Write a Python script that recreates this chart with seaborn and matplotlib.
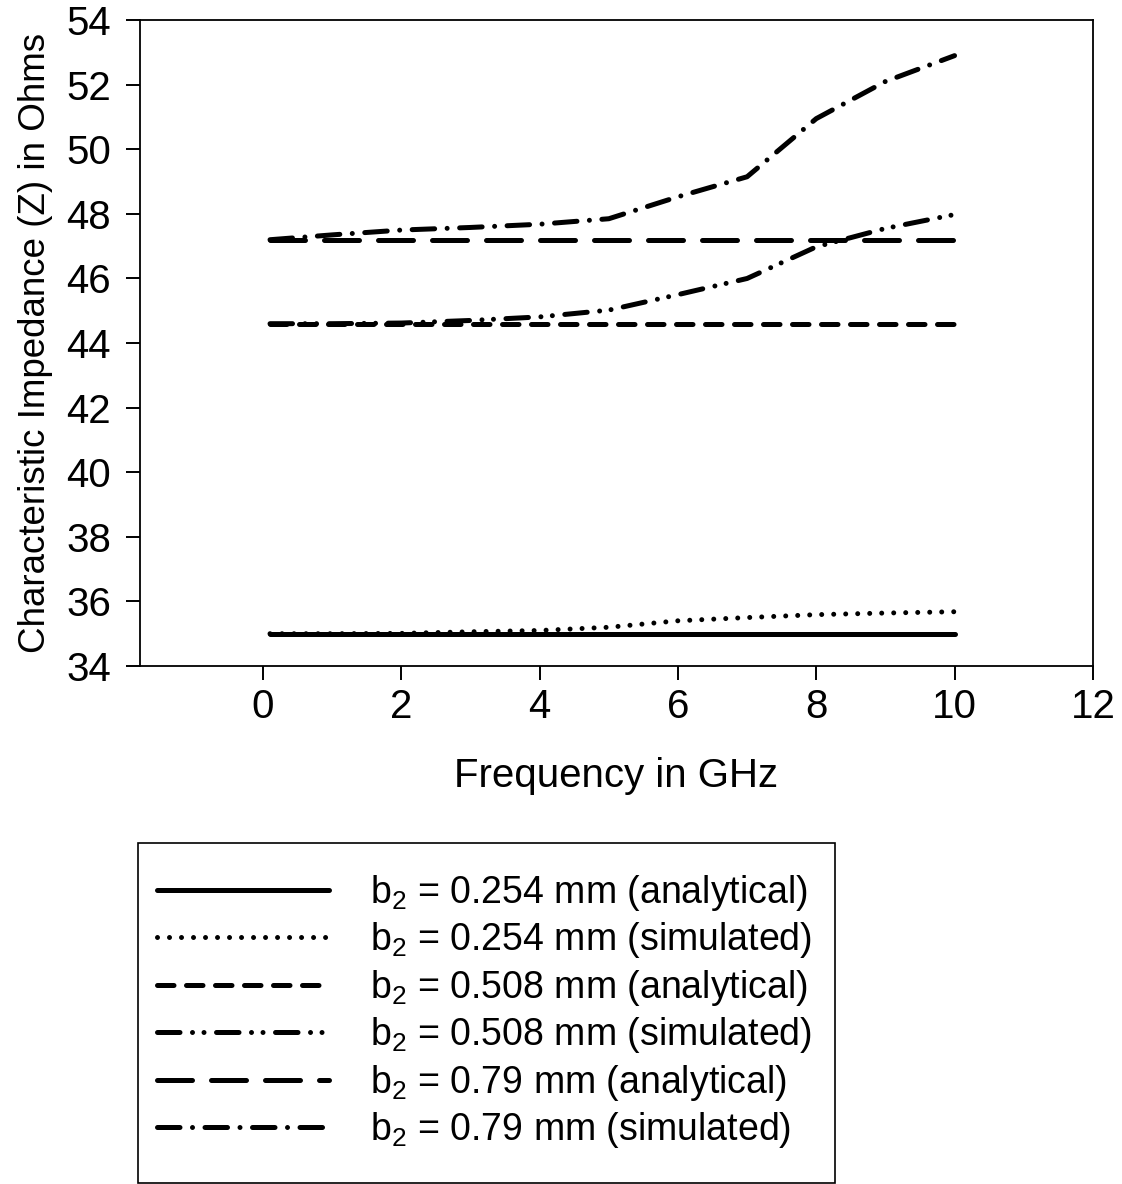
import numpy as np
import pandas as pd
import matplotlib
matplotlib.use("Agg")
import matplotlib.pyplot as plt
from matplotlib.patches import Rectangle
import seaborn as sns

# ---- data ----
freq = [0.1, 1, 2, 3, 4, 5, 6, 7, 8, 9, 10]
z_254_analytical = [35.0] * 11
z_254_simulated = [35.0, 35.0, 35.01, 35.06, 35.1, 35.2, 35.4, 35.5, 35.59, 35.64, 35.68]
z_508_analytical = [44.6] * 11
z_508_simulated = [44.6, 44.6, 44.62, 44.7, 44.81, 45.02, 45.5, 46.0, 46.98, 47.55, 47.98]
z_79_analytical = [47.2] * 11
z_79_simulated = [47.2, 47.35, 47.5, 47.58, 47.68, 47.85, 48.53, 49.15, 50.95, 52.1, 52.9]

labels = [
    r"b$_2$ = 0.254 mm (analytical)",
    r"b$_2$ = 0.254 mm (simulated)",
    r"b$_2$ = 0.508 mm (analytical)",
    r"b$_2$ = 0.508 mm (simulated)",
    r"b$_2$ = 0.79 mm (analytical)",
    r"b$_2$ = 0.79 mm (simulated)",
]
series = [z_254_analytical, z_254_simulated, z_508_analytical,
          z_508_simulated, z_79_analytical, z_79_simulated]
x_ticks = [0, 2, 4, 6, 8, 10, 12]
y_ticks = [34, 36, 38, 40, 42, 44, 46, 48, 50, 52, 54]

# ---- style ----
sns.set_style("ticks")
plt.rcParams["font.family"] = ["Liberation Sans", "DejaVu Sans"]
plt.rcParams["mathtext.fontset"] = "custom"
plt.rcParams["mathtext.rm"] = "Liberation Sans"
plt.rcParams["mathtext.it"] = "Liberation Sans"
plt.rcParams["mathtext.default"] = "regular"
for k in ["text.color", "axes.labelcolor", "xtick.color", "ytick.color",
          "axes.edgecolor"]:
    plt.rcParams[k] = "black"

FS = 29
FS_Y = 26.5
FS_LEG = 27
LW = 3.6
D = 0.001
dash_styles = [
    None,
    (D, 2.4),
    (3.3, 2.5),
    (4.5, 2.5, D, 2.3, D, 2.5),
    (7.0, 3.8),
    (4.5, 2.5, D, 2.5),
]

W, H = 1122, 1184
fig = plt.figure(figsize=(W / 100, H / 100), dpi=100)
ax = fig.add_axes([0.1248, 0.4375, 0.974 - 0.1248, 0.983 - 0.4375])

lines = []
for vals, lab, ds in zip(series, labels, dash_styles):
    df = pd.DataFrame({"f": freq, "z": vals})
    sns.lineplot(data=df, x="f", y="z", ax=ax, color="black", lw=LW,
                 label=lab, legend=False)
    ln = ax.get_lines()[-1]
    if ds is not None:
        ln.set_dashes(ds)
        ln.set_dash_capstyle("round")
    ln.set_solid_capstyle("round")
    ln.set_solid_joinstyle("round")
    ln.set_dash_joinstyle("round")
    lines.append(ln)

ax.set_xlim(-1.78, 12)
ax.set_ylim(34, 54)
ax.set_xticks(x_ticks)
ax.set_yticks(y_ticks)
ax.tick_params(axis="both", labelsize=FS, length=10, width=1.4,
               direction="out", colors="black")
ax.tick_params(axis="y", pad=11)
ax.tick_params(axis="x", pad=6)
for sp in ax.spines.values():
    sp.set_visible(True)
    sp.set_linewidth(1.3)
    sp.set_color("black")

ax.set_xlabel("Frequency in GHz", fontsize=FS, labelpad=22)
ax.set_ylabel("Characteristic Impedance (Z) in Ohms", fontsize=FS_Y, labelpad=9)

leg = fig.legend(handles=lines, labels=labels, loc="upper left",
                 bbox_to_anchor=(138 / W, 1 - 854 / H),
                 fontsize=FS_LEG, frameon=False,
                 handlelength=4.6, handletextpad=1.1, labelspacing=0.2,
                 borderpad=0.5, borderaxespad=0)

# legend frame (box) in figure pixels
fig.patches.append(Rectangle((138 / W, 1 - 1183 / H), (835 - 138) / W,
                             (1183 - 843) / H, transform=fig.transFigure,
                             fill=False, edgecolor="black", linewidth=1.2))

fig.savefig("out.png", dpi=100, facecolor="white")
